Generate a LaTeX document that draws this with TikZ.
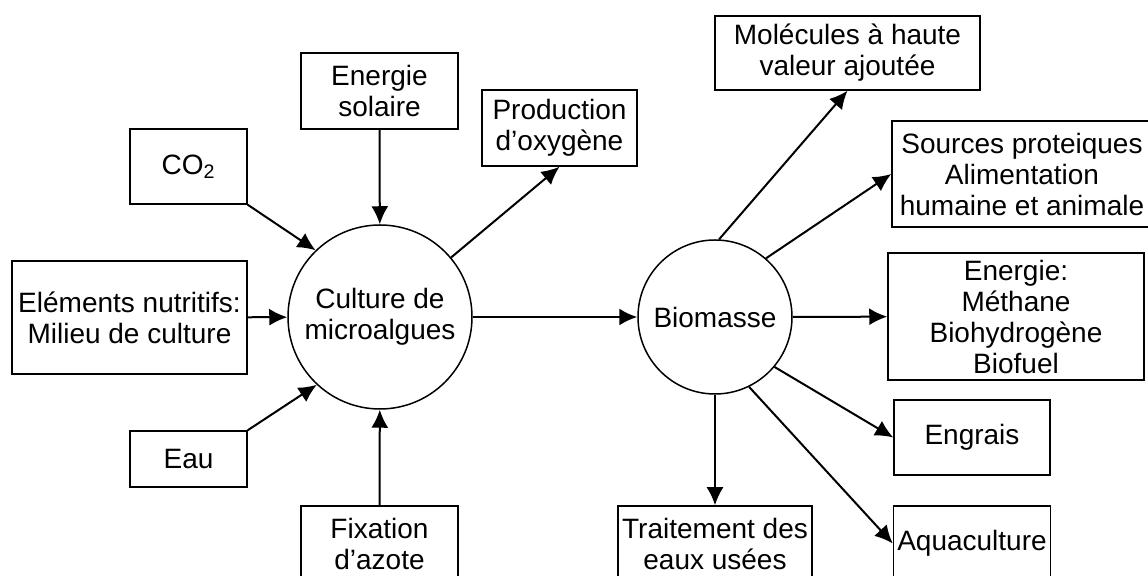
\documentclass[tikz,border=0pt]{standalone}
\usepackage{fontspec}
\setmainfont{Liberation Sans}
\usetikzlibrary{arrows.meta, positioning}

\begin{document}
\begin{tikzpicture}[x=0.5pt, y=-0.5pt, >={Latex[length=9pt,width=8.5pt]},
        box/.style={draw, line width=0.75pt, align=center, inner sep=0pt,
          font=\fontsize{14}{15.5}\selectfont},
        pool/.style={draw, circle, line width=0.75pt, align=center, inner sep=0pt,
          font=\fontsize{14}{15.5}\selectfont}]
        \clip (0,0) rectangle (1148,576);
        \fill[white] (0,0) rectangle (1148,576);
        % centres
        \node[pool, minimum size=92pt] (culture) at (380,317) {Culture de\\microalgues};
        \node[pool, minimum size=77pt] (biomasse) at (715,317) {Biomasse};
        % entrees
        \node[box, minimum width=58.5pt, minimum height=37.5pt] (co2) at (188.5,166.5) {CO\textsubscript{2}};
        \node[box, minimum width=78.5pt, minimum height=38pt] (solaire) at (379.5,91) {Energie\\solaire};
        \node[box, minimum width=117.5pt, minimum height=56.5pt] (nutri) at (129.5,317.5) {Eléments nutritifs:\\Milieu de culture};
        \node[box, minimum width=58.5pt, minimum height=28pt] (eau) at (188.5,459) {Eau};
        \node[box, minimum width=78.5pt, minimum height=38pt] (azote) at (379.5,544) {Fixation\\d’azote};
        \node[box, minimum width=77.5pt, minimum height=38pt] (oxygene) at (559.5,128) {Production\\d'oxygène};
        % produits
        \node[box, minimum width=132.5pt, minimum height=37pt] (molecules) at (847.5,53) {Molécules à haute\\valeur ajoutée};
        \node[box, minimum width=130pt, minimum height=53pt] (sources) at (1022,174) {Sources proteiques\\Alimentation\\humaine et animale};
        \node[box, minimum width=128pt, minimum height=63.5pt] (energie) at (1016,316.5) {Energie:\\Méthane\\Biohydrogène\\Biofuel};
        \node[box, minimum width=78pt, minimum height=37.5pt] (engrais) at (972,437.5) {Engrais};
        \node[box, minimum width=78.5pt, minimum height=37.5pt] (aqua) at (972,543.5) {Aquaculture};
        \node[box, minimum width=97pt, minimum height=38pt] (traitement) at (715,544) {Traitement des\\eaux usées};
        \path[->, line width=1pt]
        (co2.south east) edge (culture.134)
        (solaire) edge (culture)
        (nutri) edge (culture)
        (eau.north east) edge (culture.227)
        (azote) edge (culture)
        (culture) edge (oxygene.south)
        (culture) edge (biomasse)
        (biomasse.87) edge (molecules.south)
        (biomasse.49) edge (sources.west)
        (biomasse) edge (energie)
        (biomasse.-40) edge (engrais.west)
        (biomasse.-64) edge (aqua.west)
        (biomasse) edge (traitement)
        ;
    \end{tikzpicture}
\end{document}
